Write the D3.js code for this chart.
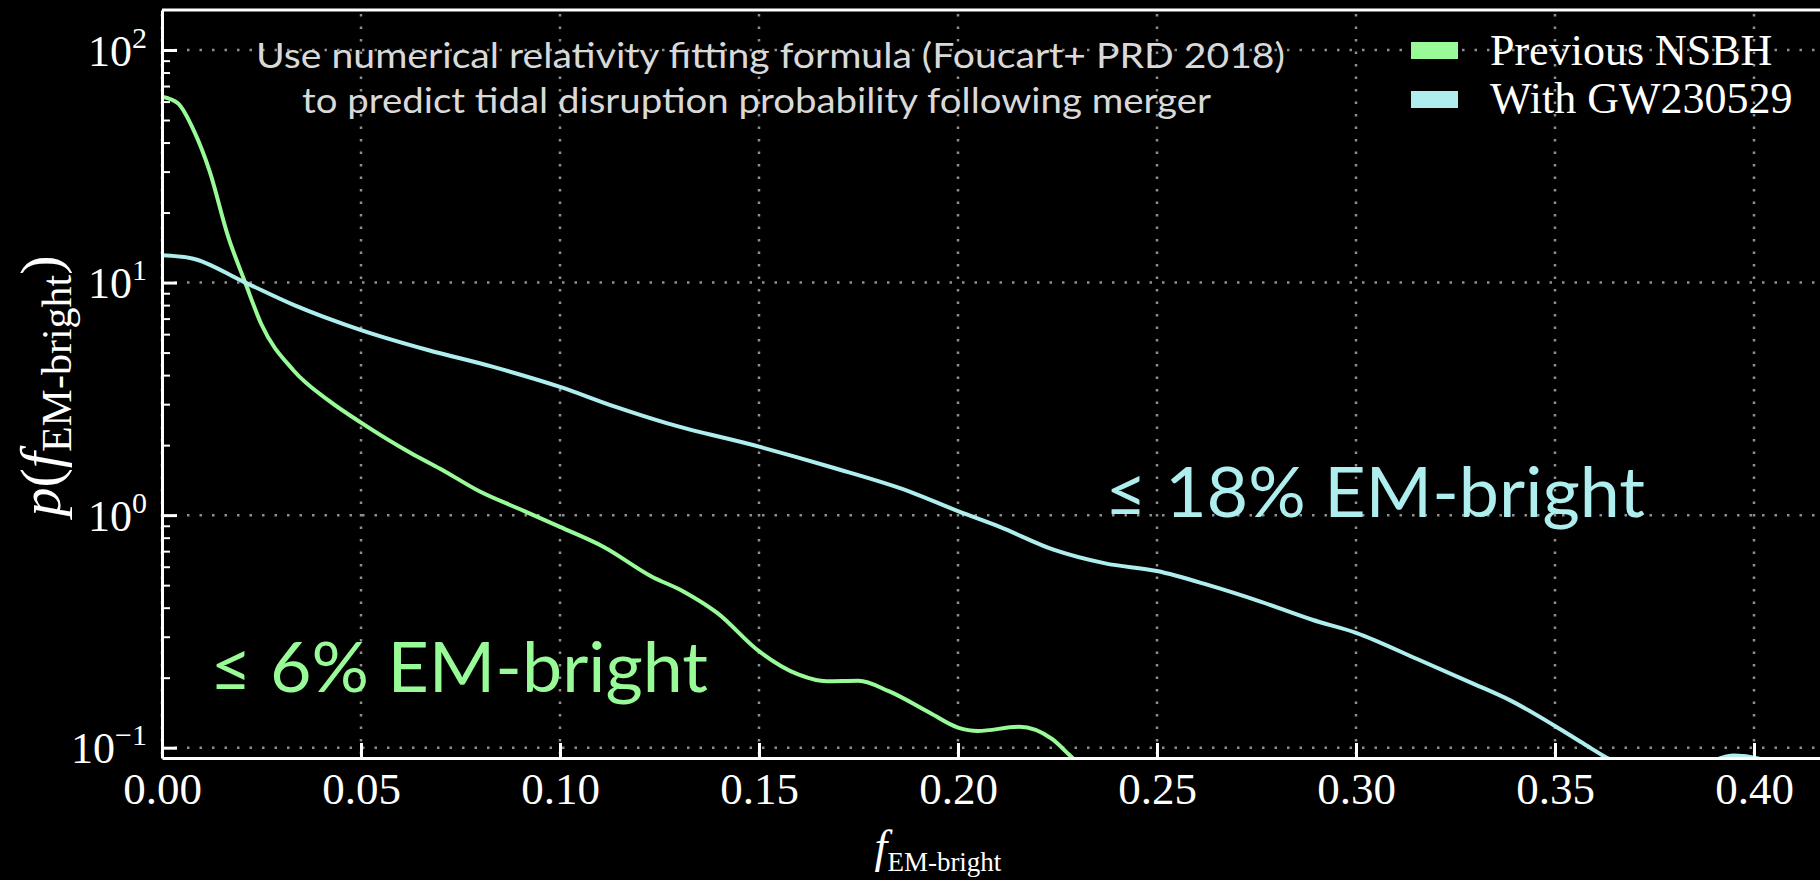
<!DOCTYPE html>
<html>
<head>
<meta charset="utf-8">
<script src="https://cdn.jsdelivr.net/npm/d3@7"></script>
<style>
body{margin:0;background:#000;}
svg{display:block;}
</style>
</head>
<body>
<svg id="chart" width="1820" height="880"></svg>
<script>
// Previous NSBH (green) and With GW230529 (blue)
var prevF=[0,0.004,0.008,0.012,0.0165,0.0209,0.025,0.033,0.042,0.05,0.0625,0.07,0.08,0.09,0.1,0.111,0.123,0.131,0.1395,0.15,0.16,0.167,0.175,0.1826,0.193,0.2,0.205,0.2154,0.2236,0.228,0.232];
var prevP=[63,59,45,30,16,10,6.6,4.2,3.1,2.5,1.85,1.58,1.26,1.06,0.89,0.73,0.545,0.47,0.38,0.26,0.206,0.193,0.194,0.175,0.141,0.122,0.118,0.123,0.109,0.093,0.08];
var gwF=[0,0.0076,0.0204,0.0332,0.05,0.0668,0.083,0.1,0.114,0.127,0.15,0.168,0.188,0.2,0.2105,0.224,0.237,0.25,0.263,0.276,0.289,0.3,0.3155,0.3287,0.339,0.35,0.3576,0.363,0.37,0.378,0.388,0.395,0.401,0.408,0.42];
var gwP=[13.1,12.7,10.1,8.0,6.25,5.13,4.35,3.56,2.92,2.48,1.97,1.61,1.26,1.04,0.89,0.71,0.62,0.575,0.5,0.425,0.355,0.312,0.24,0.191,0.159,0.124,0.103,0.0906,0.08,0.076,0.086,0.0925,0.09,0.08,0.065];

var seriesNames=["Previous NSBH","With GW230529"];
var seriesColors=["#98fb98","#afeeee"];

var xLim=[0,0.42];
var yLim=[0.0903,148.6];
var xTicks=[0,0.05,0.1,0.15,0.2,0.25,0.3,0.35,0.4];
var yTicks=[0.1,1,10,100];
var yTickExp=["\u22121","0","1","2"];

var notes=["Use numerical relativity fitting formula (Foucart+ PRD 2018)","to predict tidal disruption probability following merger"];
var labels=["\u2264 6% EM-bright","\u2264 18% EM-bright"];

var padL=162, padT=10, padB=758, W=1820;
var svg=d3.select('#chart');
var serif="'Liberation Serif','Times New Roman',serif";
var sans="Lato,'Open Sans',sans-serif";

var x=d3.scaleLinear().domain(xLim).range([padL,padL+0.42*3980]);
var y=d3.scaleLog().domain(yLim).range([padB,padT]);

var minors=[];
[0.01,0.1,1,10].forEach(function(d){
    for(var k=2;k<10;k++){
        var v=d*k;
        if(v>=yLim[0] && v<=yLim[1]) minors.push(v);
    }
});

//dotted grid
var grid=svg.append('g').attr('stroke','#8f8f8f').attr('stroke-width',2.5).attr('stroke-dasharray','2.5,10');
grid.selectAll('line.v').data(xTicks).enter().append('line')
    .attr('x1',function(d){return x(d);}).attr('x2',function(d){return x(d);})
    .attr('y1',padT+4).attr('y2',padB);
grid.selectAll('line.h').data(yTicks).enter().append('line')
    .attr('x1',padL).attr('x2',W)
    .attr('y1',function(d){return y(d);}).attr('y2',function(d){return y(d);});

//curves
svg.append('clipPath').attr('id','plot').append('rect')
    .attr('x',padL).attr('y',padT).attr('width',W-padL).attr('height',padB-padT);
var line=d3.line()
    .x(function(d){return x(d[0]);})
    .y(function(d){return y(d[1]);})
    .curve(d3.curveMonotoneX);
var series=[d3.zip(prevF,prevP),d3.zip(gwF,gwP)];
svg.append('g').attr('clip-path','url(#plot)')
    .selectAll('path').data(series).enter().append('path')
        .attr('d',line)
        .attr('fill','none')
        .attr('stroke',function(d,i){return seriesColors[i];})
        .attr('stroke-width',4);

//axes
var xAxis=svg.append('g').attr('transform','translate(0,'+padB+')')
    .call(d3.axisBottom(x).tickValues(xTicks).tickSize(-15).tickSizeOuter(0).tickFormat(d3.format('.2f')));
xAxis.selectAll('text').attr('y',46).attr('dy',0)
    .attr('fill','#fff').style('font-family',serif).style('font-size','45px');

var yMinor=svg.append('g').attr('transform','translate('+padL+',0)')
    .call(d3.axisLeft(y).tickValues(minors).tickSize(-8).tickSizeOuter(0).tickFormat(''));
yMinor.selectAll('line').attr('stroke-width',2);
yMinor.select('.domain').remove();

var yAxis=svg.append('g').attr('transform','translate('+padL+',0)')
    .call(d3.axisLeft(y).tickValues(yTicks).tickSize(-15).tickSizeOuter(0).tickFormat(''));
yAxis.selectAll('.tick text').each(function(d,i){
    var t=d3.select(this).attr('x',-15).attr('y',15).attr('dy',0)
        .attr('text-anchor','end').attr('fill','#fff')
        .style('font-family',serif).style('font-size','44px');
    t.append('tspan').text('10');
    t.append('tspan').attr('dy',-18).style('font-size','30px').text(yTickExp[i]);
});

svg.selectAll('.domain').attr('stroke','#fff').attr('stroke-width',3);
svg.selectAll('.tick line').attr('stroke','#fff');
xAxis.selectAll('.tick line').attr('stroke-width',3);
yAxis.selectAll('.tick line').attr('stroke-width',3);
//top spine
svg.append('line').attr('x1',padL).attr('x2',W).attr('y1',padT).attr('y2',padT)
    .attr('stroke','#fff').attr('stroke-width',3);

//axis titles
var xt=svg.append('text').attr('x',938).attr('y',862).attr('text-anchor','middle')
    .attr('fill','#fff').style('font-family',serif).style('font-size','46px');
xt.append('tspan').style('font-style','italic').text('f');
xt.append('tspan').attr('dy',9).style('font-size','27px').text('EM-bright');

var yt=svg.append('text').attr('transform','translate(60,386) rotate(-90)').attr('text-anchor','middle')
    .attr('fill','#fff').style('font-family',serif).style('font-size','58px');
yt.append('tspan').style('font-style','italic').text('p');
yt.append('tspan').text('(');
yt.append('tspan').style('font-style','italic').text('f');
yt.append('tspan').attr('dy',11).style('font-size','42px').text('EM-bright');
yt.append('tspan').attr('dy',-11).text(')');

//legend
var leg=svg.append('g');
seriesNames.forEach(function(name,i){
    leg.append('rect').attr('x',1411).attr('y',42+49*i).attr('width',47).attr('height',17)
        .attr('fill',seriesColors[i]);
    leg.append('text').attr('x',1490).attr('y',65+48*i).attr('fill','#fff')
        .style('font-family',serif).style('font-size','44px').text(name);
});

//annotations
var noteX=[256,302], noteY=[68,113], noteW=[1029,909];
notes.forEach(function(s,i){
    svg.append('text').attr('x',noteX[i]).attr('y',noteY[i])
        .attr('textLength',noteW[i]).attr('lengthAdjust','spacingAndGlyphs')
        .attr('fill','#d9d9d9').style('font-family',sans).style('font-size','35px').text(s);
});
var labX=[210,1105], labY=[692,517], labW=[498,540];
labels.forEach(function(s,i){
    svg.append('text').attr('x',labX[i]).attr('y',labY[i])
        .attr('textLength',labW[i]).attr('lengthAdjust','spacingAndGlyphs')
        .attr('fill',seriesColors[i]).style('font-family',sans).style('font-size','69px').text(s);
});
</script>
</body>
</html>
